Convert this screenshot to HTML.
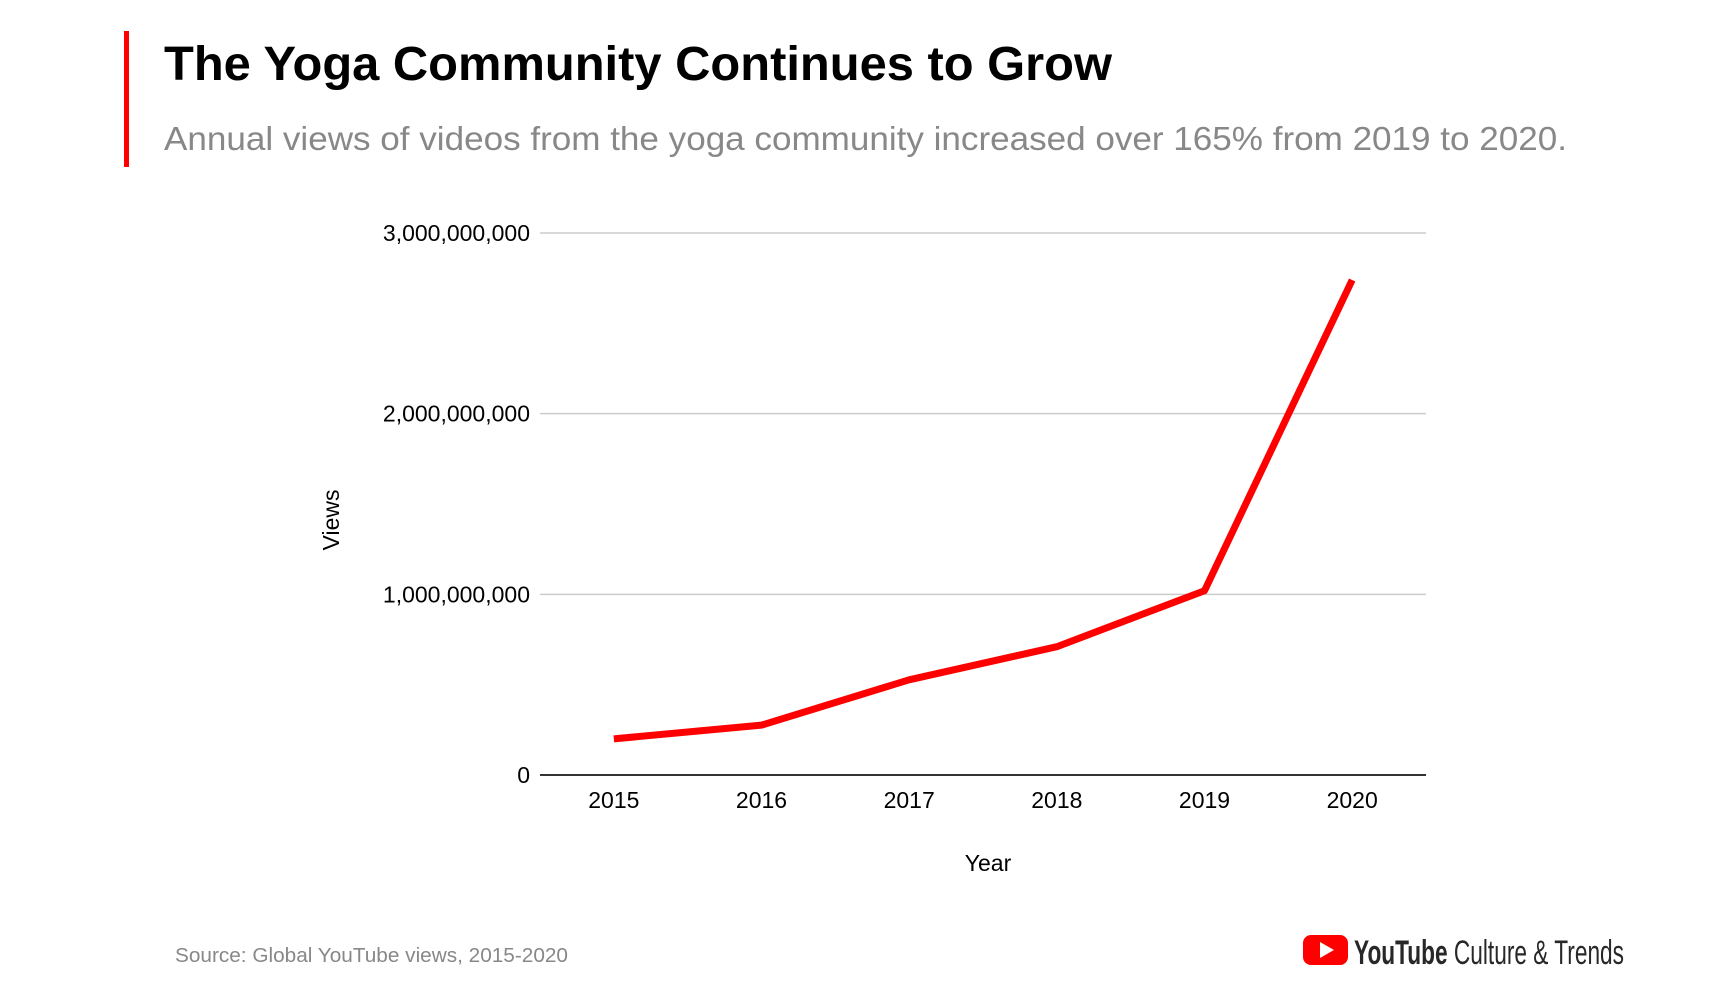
<!DOCTYPE html>
<html><head><meta charset="utf-8"><style>
html,body{margin:0;padding:0;background:#fff;}
svg{display:block;font-family:"Liberation Sans",sans-serif;}
</style></head><body>
<svg width="1732" height="986" viewBox="0 0 1732 986">
<rect x="124" y="31" width="5" height="136" fill="#f00"/>
<text x="164" y="80" font-size="48" font-weight="bold" fill="#000" textLength="948" lengthAdjust="spacingAndGlyphs">The Yoga Community Continues to Grow</text>
<text x="164" y="150" font-size="33" fill="#888" textLength="1403" lengthAdjust="spacingAndGlyphs">Annual views of videos from the yoga community increased over 165% from 2019 to 2020.</text>
<g id="grid"></g>
<g id="yt"></g>
<g id="xt"></g>
<path id="line" fill="none" stroke="#f00" stroke-width="7" stroke-linejoin="round"/>
<text x="988" y="871" font-size="23" text-anchor="middle" fill="#000">Year</text>
<text transform="translate(339,520) rotate(-90)" font-size="23" text-anchor="middle" fill="#000">Views</text>
<text x="175" y="962" font-size="20" fill="#888" textLength="393" lengthAdjust="spacingAndGlyphs">Source: Global YouTube views, 2015-2020</text>
<g>
<rect x="1303" y="935" width="45" height="30" rx="8" fill="#f00"/>
<polygon points="1320,942 1334,950 1320,958" fill="#fff"/>
<text x="1354" y="964" font-size="34" fill="#282828" textLength="270" lengthAdjust="spacingAndGlyphs"><tspan font-weight="bold">YouTube</tspan> Culture &amp; Trends</text>
</g>
</svg>
<script>
const categories=["2015","2016","2017","2018","2019","2020"];
const views=[200000000,276000000,527000000,710000000,1020000000,2740000000];
const yTicks=[0,1000000000,2000000000,3000000000];
const yTickLabels=["0","1,000,000,000","2,000,000,000","3,000,000,000"];
const NS="http://www.w3.org/2000/svg";
const x0=540,x1=1426,yBase=775,yTop=233,yMax=3000000000;
const step=(x1-x0)/categories.length;
const xs=i=>x0+step*(i+0.5);
const ys=v=>yBase-(v/yMax)*(yBase-yTop);
const grid=document.getElementById('grid'),yt=document.getElementById('yt'),xt=document.getElementById('xt');
yTicks.forEach((t,i)=>{
 const l=document.createElementNS(NS,'line');
 
 
 l.setAttribute('x1',x0);l.setAttribute('x2',x1);l.setAttribute('y1',ys(t));l.setAttribute('y2',ys(t));
 l.setAttribute('stroke',t===0?'#333':'#ccc');l.setAttribute('stroke-width',t===0?2:1.5);
 grid.appendChild(l);
 const tx=document.createElementNS(NS,'text');
 
 
 tx.setAttribute('x',530);tx.setAttribute('y',ys(t)+8);tx.setAttribute('font-size','23');tx.setAttribute('text-anchor','end');
 tx.textContent=yTickLabels[i];yt.appendChild(tx);
});
categories.forEach((c,i)=>{
 const tx=document.createElementNS(NS,'text');
 
 
 tx.setAttribute('x',xs(i));tx.setAttribute('y',808);tx.setAttribute('font-size','23');tx.setAttribute('text-anchor','middle');
 tx.textContent=c;xt.appendChild(tx);
});
document.getElementById('line').setAttribute('d',views.map((v,i)=>(i?'L':'M')+xs(i)+','+ys(v)).join(' '));
</script>
</body></html>
